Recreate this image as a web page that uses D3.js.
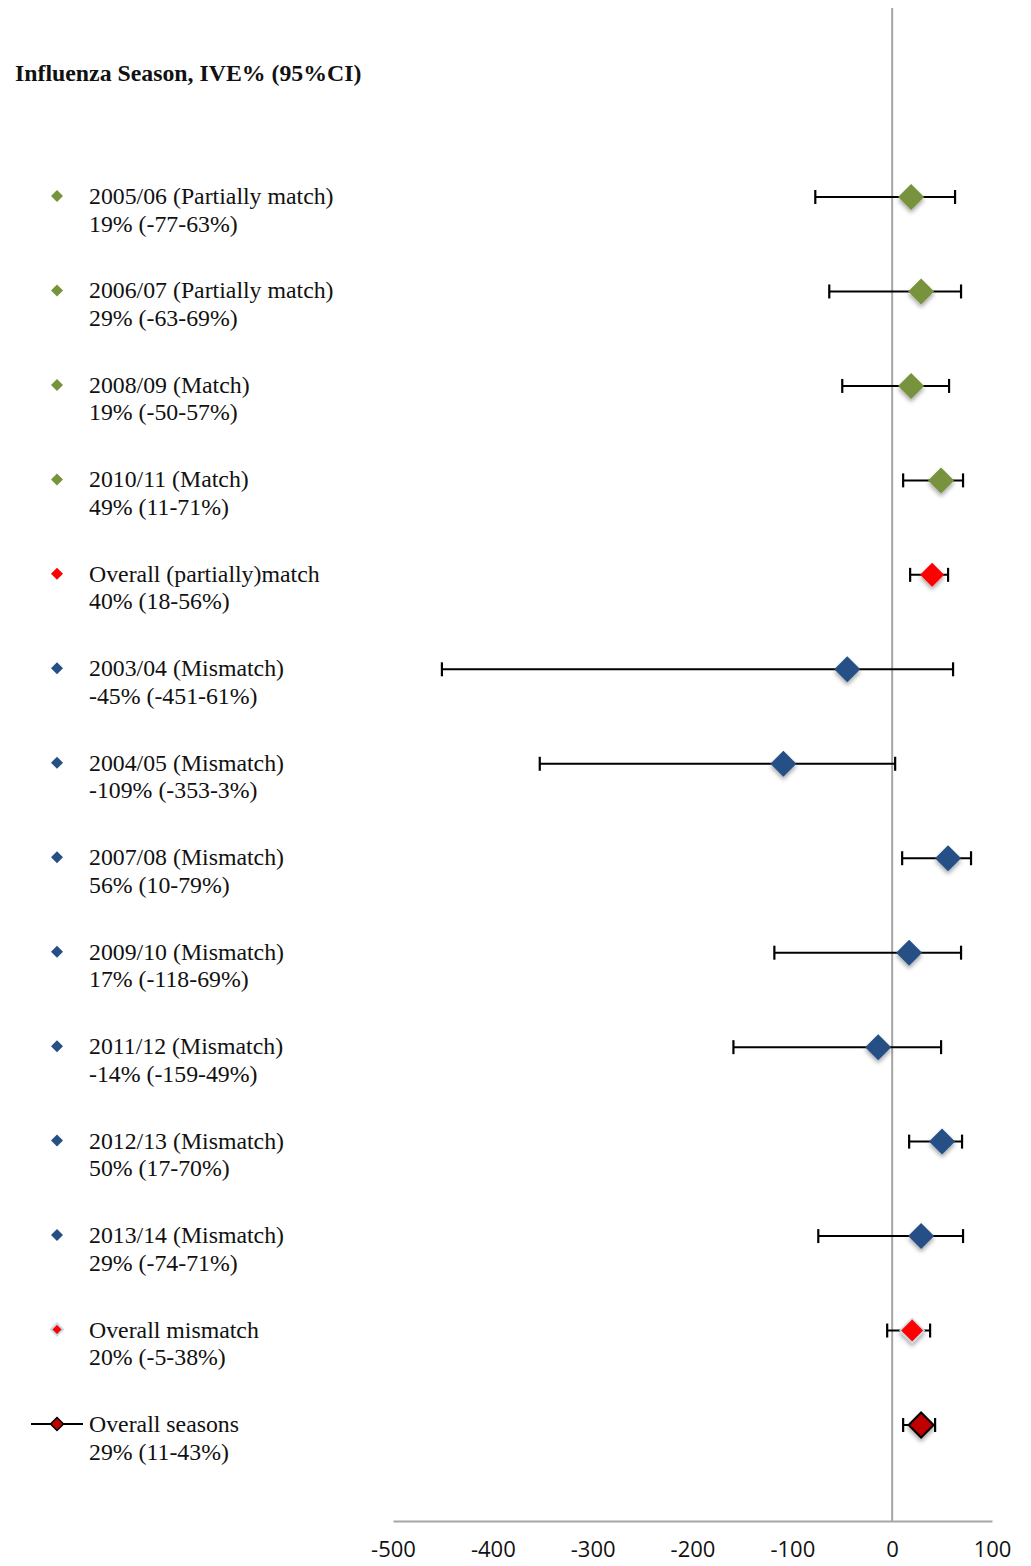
<!DOCTYPE html>
<html>
<head>
<meta charset="utf-8">
<script src="https://cdn.jsdelivr.net/npm/d3@7"></script>
<style>
  html, body { margin: 0; padding: 0; background: #fff; }
  svg { display: block; }
</style>
</head>
<body>
<div id="chart"></div>
<script>
// Season labels (first legend line) and the estimate / CI figures
const seasons = [
  "2005/06 (Partially match)", "2006/07 (Partially match)", "2008/09 (Match)",
  "2010/11 (Match)", "Overall (partially)match", "2003/04 (Mismatch)",
  "2004/05 (Mismatch)", "2007/08 (Mismatch)", "2009/10 (Mismatch)",
  "2011/12 (Mismatch)", "2012/13 (Mismatch)", "2013/14 (Mismatch)",
  "Overall mismatch", "Overall seasons"
];
const ive   = [19, 29, 19, 49, 40, -45, -109, 56, 17, -14, 50, 29, 20, 29];
const ciLow = [-77, -63, -50, 11, 18, -451, -353, 10, -118, -159, 17, -74, -5, 11];
const ciHigh= [63, 69, 57, 71, 56, 61, 3, 79, 69, 49, 70, 71, 38, 43];
// Group of each row: match, pooled, mismatch, total
const group = ["match","match","match","match","pooled","mismatch","mismatch","mismatch",
               "mismatch","mismatch","mismatch","mismatch","pooled","total"];
const xTicks = [-500, -400, -300, -200, -100, 0, 100];

const W = 1031, H = 1566;
const colors = {
  match:    { fill: "#77933C" },
  mismatch: { fill: "#254F85" },
  pooled:   { fill: "#FF0000" },
  total:    { fill: "#C00000" }
};

const svg = d3.select("#chart").append("svg").attr("width", W).attr("height", H);

const defs = svg.append("defs");
const f = defs.append("filter").attr("id", "shadow")
  .attr("x", "-50%").attr("y", "-50%").attr("width", "200%").attr("height", "200%");
f.append("feDropShadow").attr("dx", 0).attr("dy", 3).attr("stdDeviation", 2.2)
  .attr("flood-color", "#000").attr("flood-opacity", 0.35);

const x = d3.scaleLinear().domain([-500, 100]).range([393, 992]);
const y = d3.scalePoint().domain(d3.range(seasons.length)).range([197, 1425]);

const serif = "'Liberation Serif', 'Times New Roman', serif";

// Title
svg.append("text").attr("x", 15).attr("y", 81)
  .attr("font-family", serif).attr("font-weight", "bold").attr("font-size", 23.8)
  .attr("fill", "#111").text("Influenza Season, IVE% (95%CI)");

// Zero reference line
svg.append("line").attr("x1", x(0)).attr("x2", x(0)).attr("y1", 8).attr("y2", 1521)
  .attr("stroke", "#a6a6a6").attr("stroke-width", 2);

// Bottom axis (plain hyphen for negatives)
const axis = d3.axisBottom(x).tickValues(xTicks).tickSize(0)
  .tickFormat(d => String(d));
const ag = svg.append("g").attr("transform", "translate(0,1521)").call(axis);
ag.select(".domain").attr("stroke", "#a6a6a6").attr("stroke-width", 2);
ag.selectAll(".tick text")
  .attr("font-family", "'Open Sans', 'Liberation Sans', sans-serif")
  .attr("font-size", 22).attr("fill", "#111").attr("y", 36).attr("dy", 0);

const diamond = s => `M0,${-s}L${s},0L0,${s}L${-s},0Z`;

// Legend-style labels on the left
const leg = svg.append("g");
seasons.forEach((name, i) => {
  const g = leg.append("g").attr("transform", `translate(57,${y(i) - 1})`);
  const c = colors[group[i]];
  if (group[i] === "total") {
    g.append("line").attr("x1", -26).attr("x2", 26).attr("stroke", "#000").attr("stroke-width", 2);
    g.append("path").attr("d", diamond(6.5)).attr("fill", c.fill)
      .attr("stroke", "#000").attr("stroke-width", 1.5);
  } else if (i === 12) {
    g.append("path").attr("d", diamond(6)).attr("fill", c.fill)
      .attr("stroke", "#c9dbe6").attr("stroke-width", 2);
  } else {
    g.append("path").attr("d", diamond(6)).attr("fill", c.fill);
  }
  const t = leg.append("text").attr("x", 89).attr("y", y(i) + 7)
    .attr("font-family", serif).attr("font-size", 23.8).attr("fill", "#111");
  t.append("tspan").attr("x", 89).text(name);
  t.append("tspan").attr("x", 89).attr("dy", 27.5)
    .text(`${ive[i]}% (${ciLow[i]}-${ciHigh[i]}%)`);
});

// Confidence intervals with caps
const rows = svg.append("g");
seasons.forEach((_, i) => {
  const yy = y(i);
  const g = rows.append("g");
  g.append("line").attr("x1", x(ciLow[i])).attr("x2", x(ciHigh[i]))
    .attr("y1", yy).attr("y2", yy).attr("stroke", "#000").attr("stroke-width", 2);
  [ciLow[i], ciHigh[i]].forEach(v => {
    g.append("line").attr("x1", x(v)).attr("x2", x(v))
      .attr("y1", yy - 7).attr("y2", yy + 7).attr("stroke", "#000").attr("stroke-width", 2.2);
  });
});

// Point estimates
seasons.forEach((_, i) => {
  const c = colors[group[i]];
  const size = group[i] === "pooled" ? 12 : (group[i] === "total" ? 12.5 : 13);
  const p = rows.append("path")
    .attr("transform", `translate(${x(ive[i])},${y(i)})`)
    .attr("d", diamond(size))
    .attr("fill", c.fill)
    .attr("filter", "url(#shadow)");
  if (group[i] === "total") p.attr("stroke", "#000").attr("stroke-width", 2);
  if (i === 12) p.attr("stroke", "#c9dbe6").attr("stroke-width", 1.5);
});
</script>
</body>
</html>
